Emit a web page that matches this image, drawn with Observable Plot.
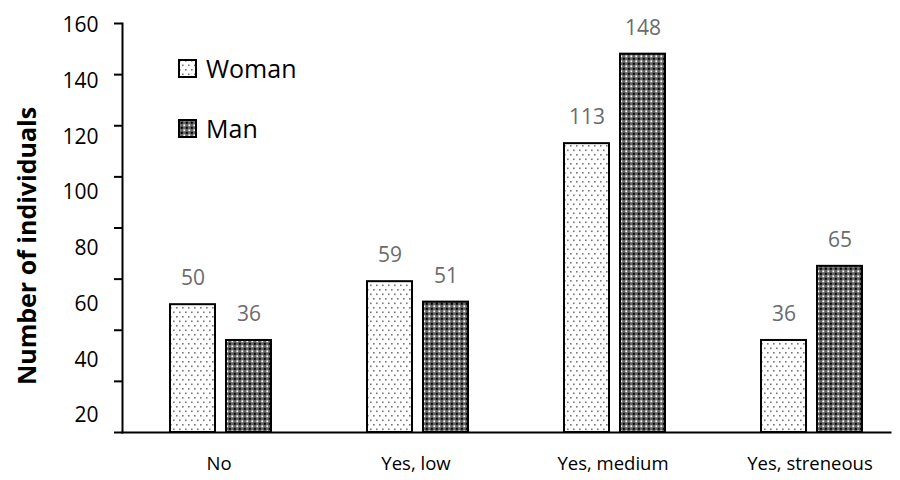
<!DOCTYPE html>
<html><head><meta charset="utf-8">
<script src="https://cdn.jsdelivr.net/npm/d3@7"></script>
<script src="https://cdn.jsdelivr.net/npm/@observablehq/plot@0.6"></script>
<style>
html,body{margin:0;background:#fff;font-family:"Open Sans",sans-serif;overflow:hidden;}
#wrap{position:relative;width:900px;height:480px;overflow:hidden;}
#wrap > svg{max-width:none !important;width:910px;height:480px;}
.lg{position:absolute;left:178px;display:flex;align-items:center;font-size:25px;color:#000;line-height:1;}
.lg svg{margin-right:8px;}
</style></head><body><div id="wrap"></div>
<script>
const categories = ["No", "Yes, low", "Yes, medium", "Yes, streneous"];
const series = ["Woman", "Man"];
const womanValues = [50, 59, 113, 36];
const manValues = [36, 51, 148, 65];
const yTickValues = [0, 20, 40, 60, 80, 100, 120, 140, 160];
const yTickLabels = [20, 40, 60, 80, 100, 120, 140, 160];
const yTitle = "Number of individuals";

const data = categories.flatMap((c, i) => [
  {category: c, sex: "Woman", value: womanValues[i]},
  {category: c, sex: "Man", value: manValues[i]}
]);
const fills = {Woman: "url(#pWoman)", Man: "url(#pMan)"};

const marks = [
  Plot.axisY({ticks: yTickValues, tickSize: 8, tickFormat: () => "", strokeWidth: 2, label: null}),
  ...yTickLabels.map(v => Plot.axisY({ticks: [v], tickSize: 0, tickPadding: 24, fontSize: 21,
      dy: 2 + (160 - v) / 20 * 4.6, label: null})),
  Plot.frame({anchor: "left", facetAnchor: "left", strokeWidth: 2}),
  ...series.map(s => Plot.barY(data.filter(d => d.sex === s), {
    fx: "category", x: "sex", y: "value", fill: fills[s], stroke: "black", strokeWidth: 2
  })),
  Plot.frame({anchor: "bottom", facet: "super", insetRight: 20, strokeWidth: 2}),
  Plot.text(data, {fx: "category", x: "sex", y: "value", text: d => String(d.value), dy: -26,
    fill: "#6b6b6b", fontSize: 21}),
  Plot.axisFx({anchor: "bottom", tickSize: 0, tickPadding: 24, fontSize: 18.5, label: null, dx: -2}),
  Plot.text([yTitle], {frameAnchor: "left", rotate: -90, textAnchor: "middle", dx: -95, dy: 18,
    fontWeight: "bold", fontSize: 25, facetAnchor: "left"})
];

const chart = Plot.plot({
  width: 910, height: 480,
  marginLeft: 121, marginRight: 0, marginTop: 23, marginBottom: 48,
  style: {fontFamily: "'Open Sans', sans-serif", color: "#000", background: "#fff"},
  fx: {domain: categories, padding: 0},
  x: {domain: series, paddingInner: 0.2, paddingOuter: 0.84, axis: null},
  y: {domain: [0, 160], axis: null},
  marks
});

const defs = d3.select(chart).insert("defs", ":first-child");
function addPatterns(sel, suffix) {
  const pw = sel.append("pattern").attr("id", "pWoman" + suffix).attr("patternUnits", "userSpaceOnUse")
    .attr("width", 6).attr("height", 9);
  pw.append("rect").attr("width", 6).attr("height", 9).attr("fill", "#fff");
  pw.append("rect").attr("x", 1).attr("y", 1).attr("width", 1.6).attr("height", 1.6).attr("fill", "#777");
  pw.append("rect").attr("x", 4).attr("y", 5.5).attr("width", 1.6).attr("height", 1.6).attr("fill", "#777");
  const pm = sel.append("pattern").attr("id", "pMan" + suffix).attr("patternUnits", "userSpaceOnUse")
    .attr("width", 5).attr("height", 5);
  pm.append("rect").attr("width", 5).attr("height", 5).attr("fill", "#666");
  pm.append("rect").attr("x", 0.4).attr("y", 0.4).attr("width", 1.8).attr("height", 1.8).attr("fill", "#fff");
  pm.append("rect").attr("x", 2.8).attr("y", 2.8).attr("width", 2.0).attr("height", 2.0).attr("fill", "#000");
}
addPatterns(defs, "");
const wrap = document.getElementById("wrap");
wrap.appendChild(chart);

// legend
const legendTops = [56, 116];
series.forEach((s, i) => {
  const div = document.createElement("div");
  div.className = "lg";
  div.style.top = legendTops[i] + "px";
  const svg = d3.create("svg").attr("width", 20).attr("height", 20);
  addPatterns(svg.append("defs"), "L" + s);
  svg.append("rect").attr("x", 1).attr("y", 1).attr("width", 17).attr("height", 17)
    .attr("fill", `url(#p${s}L${s})`).attr("stroke", "#000").attr("stroke-width", 2);
  div.appendChild(svg.node());
  const span = document.createElement("span");
  span.textContent = s;
  div.appendChild(span);
  wrap.appendChild(div);
});
</script></body></html>
